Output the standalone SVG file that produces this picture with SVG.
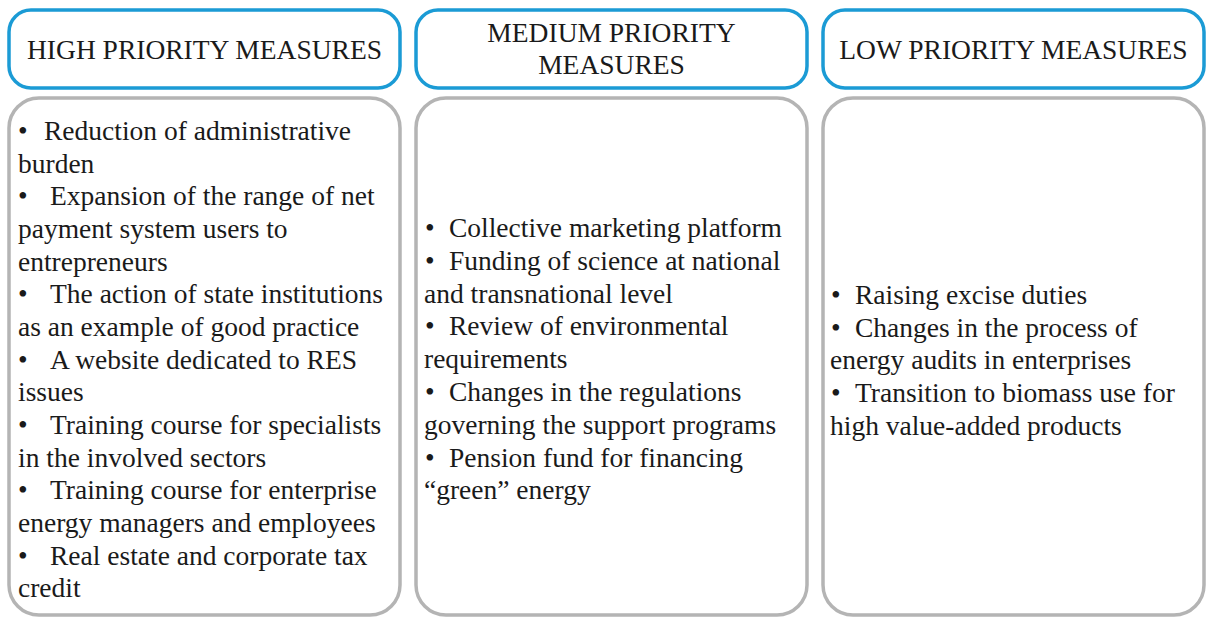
<svg xmlns="http://www.w3.org/2000/svg" width="1209" height="619" viewBox="0 0 1209 619">
<style>
.hdr{fill:#ffffff;stroke:#1b9bd5;stroke-width:3.5}
.body{fill:#ffffff;stroke:#b4b4b4;stroke-width:3.5}
.t{font-family:'Liberation Serif','Times New Roman',serif;font-size:27.5px;fill:#1a1a1a}
.c{text-anchor:middle}
</style>
<rect width="1209" height="619" fill="#ffffff"/>
<g id="high-header">
<rect class="hdr" x="9" y="10" width="391" height="78" rx="22"/>
<text class="t c" x="204.5" y="59">HIGH PRIORITY MEASURES</text>
</g>
<g id="medium-header">
<rect class="hdr" x="416" y="10" width="391" height="78" rx="22"/>
<text class="t c" x="611.5" y="42">MEDIUM PRIORITY</text>
<text class="t c" x="611.5" y="74">MEASURES</text>
</g>
<g id="low-header">
<rect class="hdr" x="823" y="10" width="381" height="78" rx="22"/>
<text class="t c" x="1013.5" y="59">LOW PRIORITY MEASURES</text>
</g>
<g id="high-body">
<rect class="body" x="9" y="98" width="391" height="517" rx="30"/>
<text class="t" x="18" y="140">&#8226;</text><text class="t" x="44" y="140">Reduction of administrative</text>
<text class="t" x="18" y="172.7">burden</text>
<text class="t" x="18" y="205.3">&#8226;</text><text class="t" x="50" y="205.3">Expansion of the range of net</text>
<text class="t" x="18" y="238">payment system users to</text>
<text class="t" x="18" y="270.6">entrepreneurs</text>
<text class="t" x="18" y="303.3">&#8226;</text><text class="t" x="50" y="303.3">The action of state institutions</text>
<text class="t" x="18" y="335.9">as an example of good practice</text>
<text class="t" x="18" y="368.6">&#8226;</text><text class="t" x="50" y="368.6">A website dedicated to RES</text>
<text class="t" x="18" y="401.2">issues</text>
<text class="t" x="18" y="433.9">&#8226;</text><text class="t" x="50" y="433.9">Training course for specialists</text>
<text class="t" x="18" y="466.5">in the involved sectors</text>
<text class="t" x="18" y="499.2">&#8226;</text><text class="t" x="50" y="499.2">Training course for enterprise</text>
<text class="t" x="18" y="531.8">energy managers and employees</text>
<text class="t" x="18" y="564.5">&#8226;</text><text class="t" x="50" y="564.5">Real estate and corporate tax</text>
<text class="t" x="18" y="597.1">credit</text>
</g>
<g id="medium-body">
<rect class="body" x="416" y="98" width="391" height="517" rx="30"/>
<text class="t" x="425" y="237">&#8226;</text><text class="t" x="449" y="237">Collective marketing platform</text>
<text class="t" x="425" y="269.8">&#8226;</text><text class="t" x="449" y="269.8">Funding of science at national</text>
<text class="t" x="424" y="302.6">and transnational level</text>
<text class="t" x="425" y="335.4">&#8226;</text><text class="t" x="449" y="335.4">Review of environmental</text>
<text class="t" x="424" y="368.2">requirements</text>
<text class="t" x="425" y="401">&#8226;</text><text class="t" x="449" y="401">Changes in the regulations</text>
<text class="t" x="424" y="433.8">governing the support programs</text>
<text class="t" x="425" y="466.6">&#8226;</text><text class="t" x="449" y="466.6">Pension fund for financing</text>
<text class="t" x="424" y="499.4">&#8220;green&#8221; energy</text>
</g>
<g id="low-body">
<rect class="body" x="823" y="98" width="381" height="517" rx="30"/>
<text class="t" x="831" y="304">&#8226;</text><text class="t" x="855" y="304">Raising excise duties</text>
<text class="t" x="831" y="336.7">&#8226;</text><text class="t" x="855" y="336.7">Changes in the process of</text>
<text class="t" x="830" y="369.4">energy audits in enterprises</text>
<text class="t" x="831" y="402.1">&#8226;</text><text class="t" x="855" y="402.1">Transition to biomass use for</text>
<text class="t" x="830" y="434.8">high value-added products</text>
</g>
<g id="connectors"></g>
</svg>
